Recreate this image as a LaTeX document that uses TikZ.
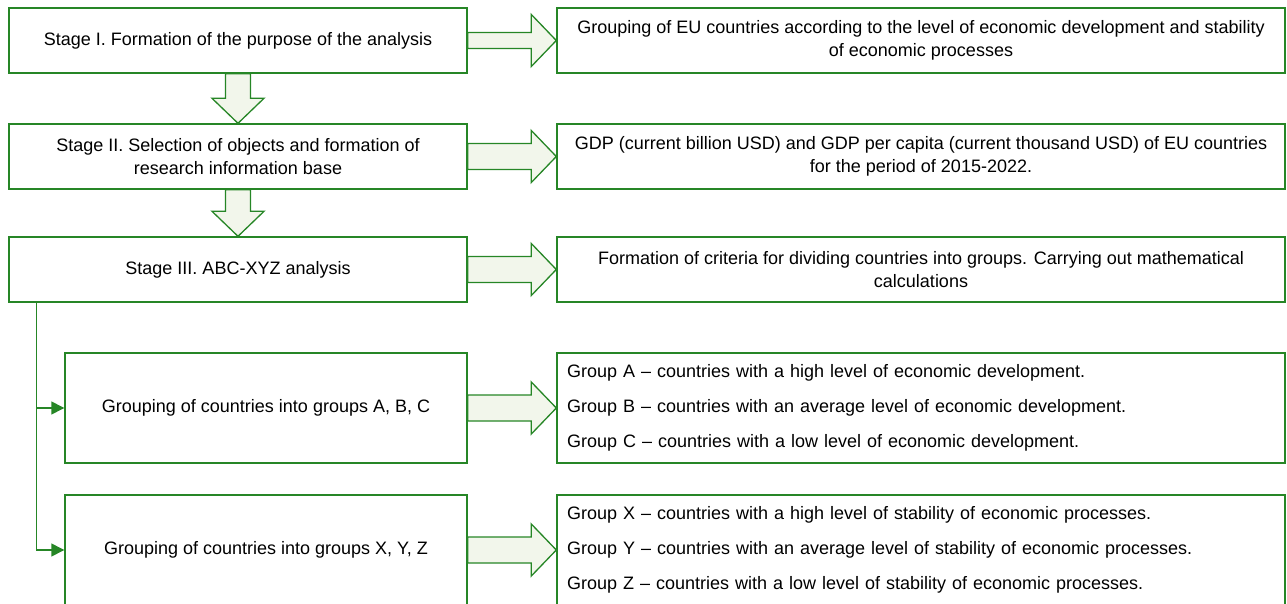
\documentclass[tikz,border=0pt]{standalone}
\usepackage{fontspec}
\setmainfont{Liberation Sans}
\usetikzlibrary{calc,arrows.meta}

\definecolor{frame}{RGB}{38,134,38}
\definecolor{arrowfill}{RGB}{242,246,235}

\begin{document}
\begin{tikzpicture}[x=1pt, y=-1pt,
  every node/.style={font=\fontsize{18}{22.5}\selectfont},
  box/.style={draw=frame, line width=1.4pt, align=center, inner sep=0pt},
  listbox/.style={box, align=left, text width=708pt, font=\fontsize{18}{35}\selectfont},
  barrow/.style={draw=frame, fill=arrowfill, line width=1.3pt, line join=miter},
  link/.style={draw=frame, line width=1.4pt, -{Triangle[length=13pt,width=13pt]}}]
  \useasboundingbox (0,0) rectangle (1287,604);

  % stages (left column)
  \node[box, minimum width=458pt, minimum height=65pt] (s1) at (238,40.5) {Stage I. Formation of the purpose of the analysis};
  \node[box, minimum width=458pt, minimum height=65pt] (s2) at (238,156.5) {Stage II. Selection of objects and formation of\\research information base};
  \node[box, minimum width=458pt, minimum height=65pt] (s3) at (238,269.5) {Stage III. ABC-XYZ analysis};

  % grouping boxes
  \node[box, minimum width=402pt, minimum height=110pt] (gabc) at (266,408) {Grouping of countries into groups A, B, C};
  \node[box, minimum width=402pt, minimum height=110pt] (gxyz) at (266,550) {Grouping of countries into groups X, Y, Z};

  % results (right column)
  \node[box, minimum width=728pt, minimum height=65pt] (r1) at (921,40.5) {Grouping of EU countries according to the level of economic development and stability\\of economic processes};
  \node[box, minimum width=728pt, minimum height=65pt] (r2) at (921,156.5) {GDP (current billion USD) and GDP per capita (current thousand USD) of EU countries\\for the period of 2015-2022.};
  \node[box, minimum width=728pt, minimum height=65pt] (r3) at (921,269.5) {Formation of criteria for dividing countries into groups. Carrying out mathematical\\calculations};
  \node[listbox, minimum width=728pt, minimum height=110pt, inner xsep=10pt] (rabc) at (921,408) {Group A -- countries with a high level of economic development.\\Group B -- countries with an average level of economic development.\\Group C -- countries with a low level of economic development.};
  \node[listbox, minimum width=728pt, minimum height=110pt, inner xsep=10pt] (rxyz) at (921,550) {Group X -- countries with a high level of stability of economic processes.\\Group Y -- countries with an average level of stability of economic processes.\\Group Z -- countries with a low level of stability of economic processes.};

  % block arrows to the right
  \foreach \a/\b/\w in {s1/r1/8, s2/r2/13, s3/r3/13, gabc/rabc/13, gxyz/rxyz/13} {
    \draw[barrow] ($(\a.east)+(0,\w)$) -- ($(\b.west)+(-25,\w)$) -- ($(\b.west)+(-25,26)$) -- (\b.west)
      -- ($(\b.west)+(-25,-26)$) -- ($(\b.west)+(-25,-\w)$) -- ($(\a.east)+(0,-\w)$) -- cycle;
  }

  % block arrows down
  \foreach \a/\b in {s1/s2, s2/s3} {
    \draw[barrow] ($(\a.south)+(-12.5,0)$) -- ($(\b.north)+(-12.5,-25)$) -- ($(\b.north)+(-26,-25)$) -- (\b.north)
      -- ($(\b.north)+(26,-25)$) -- ($(\b.north)+(12.5,-25)$) -- ($(\a.south)+(12.5,0)$) -- cycle;
  }

  % branch lines
  \coordinate (trunk) at ($(s3.south west)+(28,0)$);
  \draw[link] (trunk) |- (gabc.west);
  \draw[link] (trunk) |- (gxyz.west);

\end{tikzpicture}
\end{document}
